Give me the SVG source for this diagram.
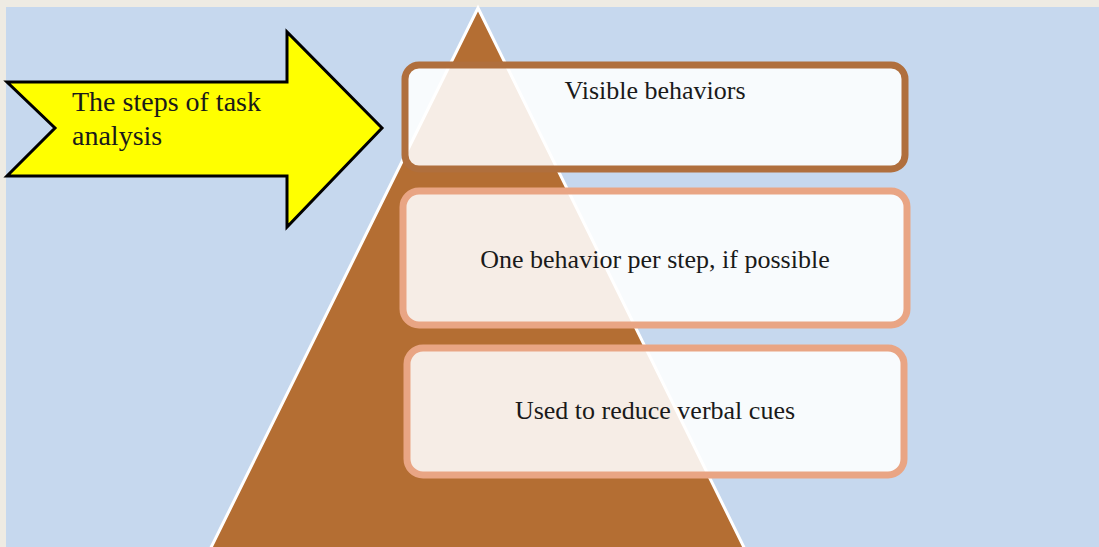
<svg xmlns="http://www.w3.org/2000/svg" width="1099" height="547" viewBox="0 0 1099 547">
  <style>
    .lbl { font-family: "Liberation Serif", "Times New Roman", serif; font-size: 26px; fill: #1a1a1a; }
    .box { fill: #ffffff; fill-opacity: 0.88; stroke-width: 7; }
    .top { stroke: #b06f3d; }
    .mid { stroke: #e9a584; }
  </style>

  <!-- page frame and slide background -->
  <rect x="0" y="0" width="1099" height="547" fill="#eeebe3"/>
  <rect x="6" y="7" width="1093" height="540" fill="#c6d8ee"/>

  <!-- pyramid -->
  <g id="pyramid">
    <polygon points="478,8 190,590 765,590" fill="#b46e33" stroke="#ffffff" stroke-width="3" stroke-linejoin="miter"/>
  </g>

  <!-- block arrow -->
  <g id="arrow">
    <polygon points="7,82 287,82 287,32 382,128 287,227 287,176 7,176 55,128" fill="#ffff00" stroke="#000000" stroke-width="3" stroke-linejoin="miter"/>
    <text class="lbl" x="72" y="111" style="font-size:28px">The steps of task</text>
    <text class="lbl" x="72" y="145" style="font-size:28px">analysis</text>
  </g>

  <g id="step-visible">
    <rect class="box top" x="405" y="65" width="500" height="104" rx="14"/>
    <text class="lbl" x="655" y="99" text-anchor="middle">Visible behaviors</text>
  </g>

  <g id="step-one">
    <rect class="box mid" x="403" y="191" width="504" height="134" rx="16"/>
    <text class="lbl" x="655" y="268" text-anchor="middle">One behavior per step, if possible</text>
  </g>

  <g id="step-used">
    <rect class="box mid" x="407" y="348" width="497" height="127" rx="16"/>
    <text class="lbl" x="655" y="419" text-anchor="middle">Used to reduce verbal cues</text>
  </g>

  <g id="connectors"></g>
</svg>
